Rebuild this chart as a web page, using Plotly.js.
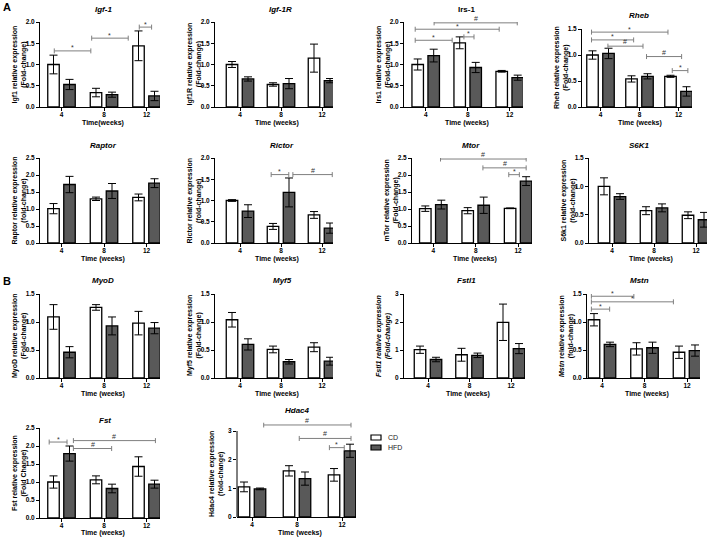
<!DOCTYPE html>
<html><head><meta charset="utf-8">
<script src="https://cdn.plot.ly/plotly-3.0.1.min.js"></script>
<style>html,body{margin:0;padding:0;background:#fff}#chart{width:708px;height:537px}</style>
</head><body><div id="chart"></div>
<script>
// ---------- DATA ----------
const weeks = ['4', '8', '12'];
const groupNames = ['CD', 'HFD'];

const igf1_cd = [1.00, 0.34, 1.44];   const igf1_cd_err = [0.22, 0.10, 0.35];
const igf1_hfd = [0.53, 0.29, 0.26];  const igf1_hfd_err = [0.12, 0.06, 0.11];

const igf1r_cd = [1.00, 0.53, 1.15];  const igf1r_cd_err = [0.07, 0.04, 0.33];
const igf1r_hfd = [0.66, 0.55, 0.62]; const igf1r_hfd_err = [0.05, 0.12, 0.05];

const irs1_cd = [1.00, 1.51, 0.84];   const irs1_cd_err = [0.13, 0.14, 0.02];
const irs1_hfd = [1.21, 0.93, 0.69];  const irs1_hfd_err = [0.15, 0.12, 0.06];

const rheb_cd = [1.00, 0.54, 0.59];   const rheb_cd_err = [0.08, 0.06, 0.02];
const rheb_hfd = [1.03, 0.59, 0.30];  const rheb_hfd_err = [0.10, 0.05, 0.09];

const raptor_cd = [1.01, 1.30, 1.34]; const raptor_cd_err = [0.15, 0.05, 0.10];
const raptor_hfd = [1.72, 1.53, 1.76];const raptor_hfd_err = [0.24, 0.22, 0.13];

const rictor_cd = [1.00, 0.39, 0.66]; const rictor_cd_err = [0.02, 0.07, 0.08];
const rictor_hfd = [0.75, 1.19, 0.35];const rictor_hfd_err = [0.15, 0.34, 0.12];

const mtor_cd = [1.01, 0.95, 1.02];   const mtor_cd_err = [0.08, 0.09, 0.01];
const mtor_hfd = [1.13, 1.11, 1.82];  const mtor_hfd_err = [0.13, 0.24, 0.13];

const s6k1_cd = [1.00, 0.57, 0.49];   const s6k1_cd_err = [0.15, 0.07, 0.06];
const s6k1_hfd = [0.82, 0.62, 0.41];  const s6k1_hfd_err = [0.05, 0.07, 0.13];

const myod_cd = [1.09, 1.26, 0.98];   const myod_cd_err = [0.22, 0.05, 0.21];
const myod_hfd = [0.46, 0.93, 0.89];  const myod_hfd_err = [0.10, 0.16, 0.10];

const myf5_cd = [1.04, 0.51, 0.55];   const myf5_cd_err = [0.13, 0.06, 0.08];
const myf5_hfd = [0.60, 0.29, 0.30];  const myf5_hfd_err = [0.10, 0.04, 0.07];

const fstl1_cd = [1.01, 0.83, 1.99];  const fstl1_cd_err = [0.13, 0.23, 0.65];
const fstl1_hfd = [0.66, 0.81, 1.05]; const fstl1_hfd_err = [0.08, 0.08, 0.18];

const mstn_cd = [1.04, 0.52, 0.46];   const mstn_cd_err = [0.11, 0.11, 0.11];
const mstn_hfd = [0.60, 0.54, 0.49];  const mstn_hfd_err = [0.04, 0.10, 0.10];

const fst_cd = [1.00, 1.06, 1.43];    const fst_cd_err = [0.17, 0.11, 0.27];
const fst_hfd = [1.79, 0.82, 0.94];   const fst_hfd_err = [0.21, 0.12, 0.11];

const hdac4_cd = [1.05, 1.61, 1.47];  const hdac4_cd_err = [0.17, 0.18, 0.22];
const hdac4_hfd = [0.98, 1.34, 2.31]; const hdac4_hfd_err = [0.03, 0.23, 0.23];

// significance brackets: [from, to (category index), level, mark]
const igf1_sig = [[-0.17, 0.69, 1.32, '*'], [0.71, 1.57, 1.62, '*'], [1.83, 2.12, 1.88, '*']];
const irs1_sig = [[-0.25, 0.63, 1.57, '*'], [0.91, 1.15, 1.65, '*'], [-0.25, 1.75, 1.83, '*'], [0.20, 2.18, 1.98, '#']];
const rheb_sig = [[-0.23, 1.73, 1.44, '*'], [-0.23, 0.85, 1.29, '*'], [0.19, 1.09, 1.17, '#'], [1.18, 2.08, 0.97, '#'], [1.84, 2.24, 0.70, '*']];
const rictor_sig = [[0.76, 1.19, 1.61, '*'], [1.29, 2.25, 1.61, '#']];
const mtor_sig = [[0.17, 2.19, 2.47, '#'], [1.17, 2.19, 2.21, '#'], [1.78, 2.03, 2.01, '*']];
const mstn_sig = [[-0.25, 0.75, 1.46, '*'], [-0.25, 1.68, 1.36, '*'], [-0.25, 0.18, 1.23, '*']];
const fst_sig = [[-0.29, 0.13, 2.11, '*'], [0.28, 2.21, 2.15, '#'], [0.28, 1.18, 1.93, '#']];
const hdac4_sig = [[0.26, 2.20, 3.21, '#'], [1.05, 2.20, 2.74, '#'], [1.72, 2.05, 2.42, '*']];

// ---------- LAYOUT OF PANELS (pixels) ----------
const W = 708, H = 537;
const panels = [
  {title:'<i>Igf-1</i>', ytitle:'Igf1 relative expression<br>(Fold-change)', xtitle:'Time(weeks)', cd:igf1_cd, cdE:igf1_cd_err, hfd:igf1_hfd, hfdE:igf1_hfd_err, sig:igf1_sig, L:40, R:160, T:22, B:107, c0:61.5, s:42.5, ymax:2, dt:0.5, tx:103, ty:9, xty:123},
  {title:'<i>Igf-1R</i>', ytitle:'Igf1R relative expression<br>(Fold-change)', xtitle:'Time (weeks)', cd:igf1r_cd, cdE:igf1r_cd_err, hfd:igf1r_hfd, hfdE:igf1r_hfd_err, sig:[], L:215, R:333, T:22, B:107, c0:240, s:41, ymax:2, dt:0.5, tx:280, ty:9, xty:123},
  {title:'Irs-1', ytitle:'Irs1 relative expression<br>(Fold-change)', xtitle:'Time (weeks)', cd:irs1_cd, cdE:irs1_cd_err, hfd:irs1_hfd, hfdE:irs1_hfd_err, sig:irs1_sig, L:404, R:523, T:22, B:107, c0:425.7, s:42, ymax:2, dt:0.5, tx:466, ty:9, xty:123},
  {title:'<i>Rheb</i>', ytitle:'Rheb relative expression<br>(Fold-change)', xtitle:'Time (weeks)', cd:rheb_cd, cdE:rheb_cd_err, hfd:rheb_hfd, hfdE:rheb_hfd_err, sig:rheb_sig, L:582, R:692, T:29, B:107, c0:600.5, s:39, ymax:1.5, dt:0.5, tx:639, ty:16, xty:123},
  {title:'<i>Raptor</i>', ytitle:'Raptor relative expression<br>(fold-change)', xtitle:'Time (weeks)', cd:raptor_cd, cdE:raptor_cd_err, hfd:raptor_hfd, hfdE:raptor_hfd_err, sig:[], L:40, R:160, T:158, B:243, c0:61.5, s:42.5, ymax:2.5, dt:0.5, tx:103, ty:145, xty:259},
  {title:'<i>Rictor</i>', ytitle:'Rictor relative expression<br>(fold-change)', xtitle:'Time (weeks)', cd:rictor_cd, cdE:rictor_cd_err, hfd:rictor_hfd, hfdE:rictor_hfd_err, sig:rictor_sig, L:215, R:333, T:158, B:243, c0:240, s:41, ymax:2, dt:0.5, tx:282, ty:145, xty:259},
  {title:'<i>Mtor</i>', ytitle:'mTor relative expression<br>(Fold-change)', xtitle:'Time (weeks)', cd:mtor_cd, cdE:mtor_cd_err, hfd:mtor_hfd, hfdE:mtor_hfd_err, sig:mtor_sig, L:412, R:532, T:158, B:243, c0:433.3, s:42.4, ymax:2.5, dt:0.5, tx:471, ty:145, xty:259},
  {title:'<i>S6K1</i>', ytitle:'S6k1 relative expression<br>(fold-change)', xtitle:'Time (weeks)', cd:s6k1_cd, cdE:s6k1_cd_err, hfd:s6k1_hfd, hfdE:s6k1_hfd_err, sig:[], L:589, R:707, T:158, B:243, c0:612, s:42, ymax:1.5, dt:0.5, tx:639, ty:145, xty:259},
  {title:'<i>MyoD</i>', ytitle:'MyoD relative expression<br>(Fold-change)', xtitle:'Time (weeks)', cd:myod_cd, cdE:myod_cd_err, hfd:myod_hfd, hfdE:myod_hfd_err, sig:[], L:40, R:160, T:294, B:378, c0:61.5, s:42.5, ymax:1.5, dt:0.5, tx:103, ty:280, xty:394},
  {title:'<i>Myf5</i>', ytitle:'Myf5 relative expression<br>(Fold-change)', xtitle:'Time (weeks)', cd:myf5_cd, cdE:myf5_cd_err, hfd:myf5_hfd, hfdE:myf5_hfd_err, sig:[], L:215, R:333, T:294, B:378, c0:240, s:41, ymax:1.5, dt:0.5, tx:282, ty:280, xty:394},
  {title:'<i>Fstl1</i>', ytitle:'<i>Fstl1 relative expression<br>(Fold-change)</i>', xtitle:'Time (weeks)', cd:fstl1_cd, cdE:fstl1_cd_err, hfd:fstl1_hfd, hfdE:fstl1_hfd_err, sig:[], L:404, R:525, T:294, B:378, c0:428, s:41.5, ymax:3, dt:1, tx:466, ty:280, xty:394},
  {title:'<i>Mstn</i>', ytitle:'<i>Mstn</i> relative expression<br>(fold-change)', xtitle:'Time (weeks)', cd:mstn_cd, cdE:mstn_cd_err, hfd:mstn_hfd, hfdE:mstn_hfd_err, sig:mstn_sig, L:587, R:700, T:294, B:378, c0:602, s:42.5, ymax:1.5, dt:0.5, tx:639, ty:280, xty:394},
  {title:'<i>Fst</i>', ytitle:'Fst relative expression<br>(Fold Change)', xtitle:'Time (weeks)', cd:fst_cd, cdE:fst_cd_err, hfd:fst_hfd, hfdE:fst_hfd_err, sig:fst_sig, L:40, R:160, T:428, B:518, c0:61.5, s:42.5, ymax:2.5, dt:0.5, tx:105, ty:420, xty:533},
  {title:'<i>Hdac4</i>', ytitle:'Hdac4 relative expression<br>(fold-change)', xtitle:'Time (weeks)', cd:hdac4_cd, cdE:hdac4_cd_err, hfd:hdac4_hfd, hfdE:hdac4_hfd_err, sig:hdac4_sig, L:237, R:356, T:431, B:517, c0:252, s:45, ymax:3, yTop:3.3, dt:1, tx:297, ty:410, xty:533}
];

const FONT = 'Liberation Sans, Arial, sans-serif';
const HFD_COLOR = '#595959';
const data = [], shapes = [], annotations = [];
const layout = {
  width: W, height: H, margin: {l:0, r:0, t:0, b:0},
  paper_bgcolor: '#fff', plot_bgcolor: 'rgba(0,0,0,0)',
  showlegend: false, barmode: 'overlay',
  font: {family: FONT, color: '#000'}
};

panels.forEach((p, i) => {
  const n = i + 1, sfx = n > 1 ? String(n) : '';
  const xa = 'x' + sfx, ya = 'y' + sfx;
  const yTop = p.yTop || p.ymax;
  const domTopPx = p.B - (p.B - p.T) * (yTop / p.ymax);
  const extended = yTop > p.ymax;
  layout['xaxis' + sfx] = {
    domain: [p.L / W, p.R / W], anchor: ya, type: 'category',
    range: [(p.L - p.c0) / p.s, (p.R - p.c0) / p.s],
    showline: true, linecolor: '#000', linewidth: 1, mirror: false,
    ticks: 'outside', ticklen: 3, tickwidth: 1, tickcolor: '#000',
    ticklabelstandoff: -2,
    tickfont: {family: FONT, size: 6.5, weight: 'bold'},
    showgrid: false, zeroline: false, fixedrange: true
  };
  layout['yaxis' + sfx] = {
    domain: [1 - p.B / H, 1 - domTopPx / H], anchor: xa,
    range: [0, yTop], tick0: 0, dtick: p.dt, tickformat: p.dt < 1 ? '.1f' : 'd',
    showline: !extended, linecolor: '#000', linewidth: 1,
    ticks: 'outside', ticklen: 3, tickwidth: 1, tickcolor: '#000',
    tickfont: {family: FONT, size: 6.5, weight: 'bold'},
    showgrid: false, zeroline: false, fixedrange: true
  };
  if (extended) {
    shapes.push({type:'line', xref:'paper', yref:'paper', x0:p.L / W, x1:p.L / W,
      y0: 1 - p.B / H, y1: 1 - p.T / H, line:{color:'#000', width:1}});
  }
  const bw = 11.5 / p.s;
  data.push({type:'bar', name:groupNames[0], x:weeks, y:p.cd, xaxis:xa, yaxis:ya,
    width:bw, offset:-13.75 / p.s,
    marker:{color:'#ffffff', line:{color:'#000', width:1.3}},
    error_y:{type:'data', array:p.cdE, visible:true, color:'#000', thickness:1, width:4}});
  data.push({type:'bar', name:groupNames[1], x:weeks, y:p.hfd, xaxis:xa, yaxis:ya,
    width:bw, offset:2.25 / p.s,
    marker:{color:HFD_COLOR, line:{color:'#000', width:1.3}},
    error_y:{type:'data', array:p.hfdE, visible:true, color:'#000', thickness:1, width:4}});

  // significance brackets
  p.sig.forEach(([a, b, lv, mk]) => {
    const ln = {color:'#7f7f7f', width:1};
    shapes.push({type:'line', xref:xa, yref:ya, x0:a, x1:b, y0:lv, y1:lv, line:ln});
    [a, b].forEach(xx => shapes.push({type:'line', xref:xa, yref:ya, ysizemode:'pixel', yanchor:lv,
      x0:xx, x1:xx, y0:-2.5, y1:2.5, line:ln}));
    annotations.push({xref:xa, yref:ya, x:(a + b) / 2, y:lv, text:mk, showarrow:false,
      yanchor:'middle', yshift: mk === '*' ? 3 : 4.5,
      font:{family:FONT, size:7, color:'#333333'}});
  });

  // panel title
  annotations.push({xref:'paper', yref:'paper', x:p.tx / W, y:1 - p.ty / H, text:p.title,
    showarrow:false, xanchor:'center', yanchor:'middle',
    font:{family:FONT, size:8, weight:'bold'}});
  // y title
  const yc = (p.B - (p.T + p.B) / 2) / (p.B - domTopPx);
  annotations.push({xref:xa + ' domain', yref:ya + ' domain', x:0, y:yc, xshift:-21,
    text:p.ytitle, textangle:-90, showarrow:false, xanchor:'center', yanchor:'middle',
    font:{family:FONT, size:7, weight:'bold'}});
  // x title
  annotations.push({xref:xa + ' domain', yref:'paper', x:0.5, xshift:3, y:1 - p.xty / H,
    text:p.xtitle, showarrow:false, xanchor:'center', yanchor:'middle',
    font:{family:FONT, size:7, weight:'bold'}});
});

// panel letters
annotations.push({xref:'paper', yref:'paper', x:7 / W, y:1 - 7 / H, text:'A', showarrow:false,
  xanchor:'center', yanchor:'middle', font:{family:FONT, size:11, weight:'bold'}});
annotations.push({xref:'paper', yref:'paper', x:7 / W, y:1 - 281 / H, text:'B', showarrow:false,
  xanchor:'center', yanchor:'middle', font:{family:FONT, size:11, weight:'bold'}});

// legend
const legendFills = ['#ffffff', HFD_COLOR];
groupNames.forEach((g, k) => {
  const yt = 435 + k * 10;
  shapes.push({type:'rect', xref:'paper', yref:'paper', x0:371 / W, x1:381 / W,
    y0:1 - (yt + 5) / H, y1:1 - yt / H, fillcolor:legendFills[k], line:{color:'#000', width:1.2}});
  annotations.push({xref:'paper', yref:'paper', x:386 / W, y:1 - (yt + 2.5) / H, text:g,
    showarrow:false, xanchor:'left', yanchor:'middle', font:{family:FONT, size:7, color:'#222'}});
});

layout.shapes = shapes;
layout.annotations = annotations;
Plotly.newPlot('chart', data, layout, {staticPlot:true, displayModeBar:false});
</script>
</body></html>
